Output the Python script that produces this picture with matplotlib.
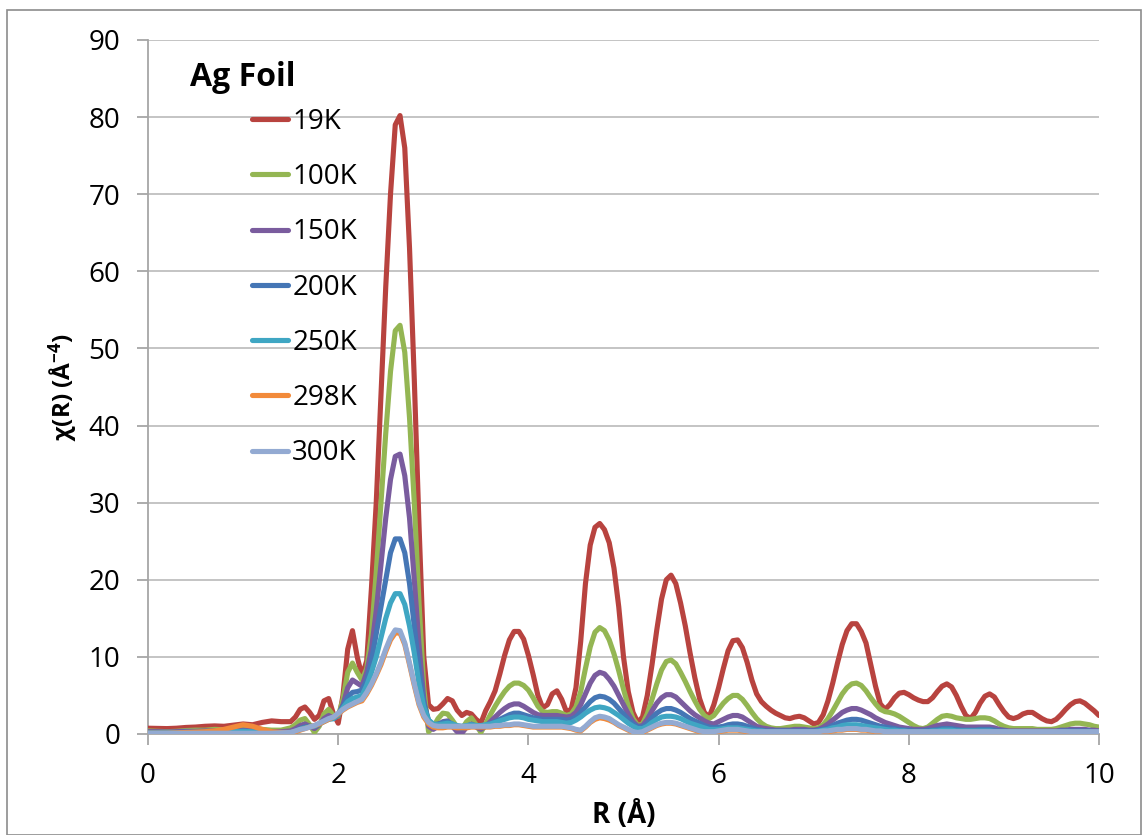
import numpy as np
import matplotlib
matplotlib.use("Agg")
import matplotlib.pyplot as plt
from matplotlib.patches import Rectangle

# ========================
# Data
# ========================
# R grid: 0.0-1.4 every 0.1 A, then 1.50-10.00 every 0.05 A
R = np.concatenate([np.round(np.arange(0.0, 1.45, 0.1), 2),
                    np.round(np.arange(1.50, 10.001, 0.05), 2)])

LABELS = ["19K", "100K", "150K", "200K", "250K", "298K", "300K"]
COLORS = ["#B8433F", "#94B653", "#7A5C9E", "#4576B5", "#3FA6C3", "#F28A3A", "#93AAD2"]

chi_19K = [
    0.75, 0.72, 0.70, 0.75, 0.85, 0.90, 1.00, 1.05, 1.00, 1.15, 1.30, 1.20, 1.50, 1.70, 1.60,
    1.6, 2.2, 3.2, 3.5, 2.8, 1.9, 2.4, 4.3, 4.6, 2.6,
    1.4, 5.0, 11.0, 13.4, 10.0, 7.5, 9.5, 19.0, 30.0, 44.0,
    58.0, 70.0, 79.0, 80.2, 76.0, 63.0, 46.0, 27.0, 10.0, 3.8,
    3.2, 3.3, 3.9, 4.6, 4.3, 3.1, 2.4, 2.8, 2.6, 1.9,
    1.4, 3.0, 4.2, 5.6, 7.8, 10.2, 12.2, 13.3, 13.3, 12.3,
    10.2, 7.7, 5.0, 3.4, 3.8, 5.2, 5.6, 4.5, 2.9, 3.2,
    6.0, 12.0, 19.5, 24.5, 26.8, 27.3, 26.5, 24.8, 21.5, 16.5,
    10.0, 5.5, 2.8, 1.5, 2.2, 5.0, 9.0, 13.5, 17.5, 20.0,
    20.6, 19.5, 17.0, 14.0, 10.5, 7.3, 4.6, 2.8, 2.2, 3.8,
    6.0, 8.5, 10.8, 12.1, 12.2, 11.2, 9.3, 7.0, 5.2, 4.2,
    3.6, 3.1, 2.7, 2.4, 2.1, 2.0, 2.2, 2.3, 2.1, 1.7,
    1.3, 1.5, 2.5, 4.3, 6.6, 9.2, 11.6, 13.4, 14.3, 14.3,
    13.3, 11.8, 9.0, 6.2, 3.9, 3.2, 3.8, 4.7, 5.3, 5.4,
    5.1, 4.7, 4.4, 4.2, 4.2, 4.7, 5.5, 6.2, 6.5, 6.1,
    5.0, 3.6, 2.4, 2.0, 2.8, 4.0, 4.9, 5.2, 4.8, 3.8,
    2.9, 2.2, 2.0, 2.2, 2.6, 2.8, 2.8, 2.4, 2.0, 1.7,
    1.6, 1.9, 2.5, 3.2, 3.8, 4.2, 4.3, 4.0, 3.5, 3.0,
    2.4,
]

chi_100K = [
    0.40, 0.35, 0.30, 0.35, 0.45, 0.50, 0.50, 0.60, 0.55, 0.70, 0.80, 0.70, 0.60, 0.50, 0.50,
    0.8, 1.2, 1.8, 2.0, 1.2, 0.2, 1.0, 2.6, 3.2, 2.4,
    2.3, 4.5, 8.0, 9.2, 8.0, 7.0, 8.5, 13.0, 21.0, 30.0,
    39.0, 47.0, 52.3, 53.0, 49.5, 41.0, 30.0, 17.0, 6.0, 0.3,
    0.9, 2.0, 2.7, 2.6, 1.8, 0.9, 0.6, 1.6, 2.1, 1.2,
    0.2, 1.3, 2.5, 3.6, 4.6, 5.5, 6.2, 6.6, 6.6, 6.3,
    5.7, 4.7, 3.6, 2.9, 2.8, 2.9, 2.9, 2.7, 2.4, 2.6,
    3.5, 5.5, 8.5, 11.3, 13.2, 13.8, 13.4, 12.2, 10.4, 8.2,
    5.8, 3.6, 2.0, 1.1, 1.3, 2.6, 4.5, 6.5, 8.3, 9.4,
    9.6, 9.1, 8.0, 6.8, 5.5, 4.3, 3.2, 2.4, 2.0, 2.4,
    3.2, 4.0, 4.6, 5.0, 5.0, 4.5, 3.7, 2.8, 2.0, 1.4,
    1.0, 0.8, 0.7, 0.7, 0.8, 0.9, 1.0, 1.0, 0.9, 0.8,
    0.7, 0.8, 1.2, 2.0, 3.0, 4.1, 5.2, 6.0, 6.5, 6.6,
    6.3, 5.6, 4.7, 3.9, 3.2, 2.9, 2.8, 2.6, 2.3, 1.9,
    1.5, 1.1, 0.8, 0.7, 0.9, 1.4, 1.9, 2.3, 2.4, 2.3,
    2.1, 2.0, 1.9, 1.9, 2.0, 2.1, 2.1, 2.0, 1.7, 1.3,
    1.0, 0.8, 0.7, 0.7, 0.7, 0.7, 0.7, 0.6, 0.6, 0.6,
    0.6, 0.7, 0.9, 1.1, 1.3, 1.4, 1.4, 1.3, 1.2, 1.0,
    0.9,
]

chi_150K = [
    0.30, 0.30, 0.25, 0.30, 0.35, 0.35, 0.40, 0.40, 0.35, 0.45, 0.50, 0.45, 0.35, 0.30, 0.30,
    0.4, 0.7, 1.1, 1.3, 1.0, 0.7, 1.2, 2.0, 2.4, 2.0,
    2.4, 3.8, 6.0, 7.0, 6.6, 6.2, 8.0, 11.0, 16.0, 22.0,
    28.0, 33.0, 36.0, 36.3, 33.5, 28.0, 20.0, 11.5, 4.5, 1.0,
    0.6, 1.0, 1.6, 1.7, 1.0, 0.3, 0.1, 0.9, 1.3, 0.9,
    0.6, 1.0, 1.6, 2.2, 2.8, 3.3, 3.7, 3.9, 3.9, 3.6,
    3.2, 2.8, 2.5, 2.4, 2.4, 2.4, 2.4, 2.3, 2.2, 2.3,
    2.8, 3.8, 5.2, 6.6, 7.6, 8.0, 7.8, 7.1, 6.2, 5.0,
    3.8, 2.6, 1.6, 1.0, 1.1, 1.9, 3.0, 4.0, 4.7, 5.1,
    5.1, 4.8, 4.2, 3.6, 3.0, 2.5, 2.1, 1.7, 1.4, 1.3,
    1.6, 1.9, 2.2, 2.4, 2.4, 2.2, 1.8, 1.4, 1.0, 0.8,
    0.7, 0.6, 0.5, 0.5, 0.5, 0.5, 0.6, 0.6, 0.6, 0.5,
    0.5, 0.6, 0.9, 1.3, 1.8, 2.3, 2.8, 3.1, 3.3, 3.3,
    3.1, 2.8, 2.5, 2.1, 1.8, 1.5, 1.3, 1.1, 0.9, 0.8,
    0.7, 0.6, 0.6, 0.6, 0.7, 0.9, 1.1, 1.2, 1.3, 1.2,
    1.1, 1.0, 0.9, 0.9, 0.9, 0.9, 0.9, 0.9, 0.8, 0.6,
    0.5, 0.4, 0.4, 0.4, 0.4, 0.4, 0.4, 0.4, 0.4, 0.4,
    0.4, 0.4, 0.5, 0.5, 0.6, 0.6, 0.6, 0.6, 0.5, 0.5,
    0.4,
]

chi_200K = [
    0.20, 0.20, 0.20, 0.20, 0.25, 0.25, 0.30, 0.30, 0.25, 0.30, 0.35, 0.30, 0.25, 0.20, 0.15,
    0.2, 0.4, 0.7, 0.9, 1.0, 1.0, 1.3, 1.7, 2.0, 2.0,
    2.5, 3.6, 4.8, 5.4, 5.5, 5.7, 7.0, 9.5, 13.0, 16.5,
    20.0, 23.5, 25.3, 25.3, 23.5, 19.5, 14.0, 8.5, 4.0, 1.8,
    1.2, 1.3, 1.5, 1.6, 1.3, 0.9, 0.7, 1.0, 1.2, 1.1,
    1.0, 1.1, 1.3, 1.6, 1.9, 2.2, 2.5, 2.7, 2.7, 2.5,
    2.3, 2.1, 2.0, 1.9, 1.9, 1.9, 1.9, 1.9, 1.8, 1.9,
    2.2, 2.8, 3.5, 4.2, 4.7, 4.9, 4.8, 4.5, 4.0, 3.3,
    2.6, 1.9, 1.3, 0.9, 0.9, 1.4, 2.1, 2.7, 3.1, 3.3,
    3.3, 3.1, 2.8, 2.4, 2.0, 1.7, 1.4, 1.1, 0.9, 0.8,
    0.9, 1.0, 1.2, 1.3, 1.3, 1.2, 1.0, 0.8, 0.6, 0.5,
    0.4, 0.4, 0.4, 0.4, 0.4, 0.4, 0.4, 0.4, 0.4, 0.4,
    0.4, 0.5, 0.6, 0.8, 1.1, 1.4, 1.6, 1.8, 1.9, 1.9,
    1.8, 1.6, 1.4, 1.2, 1.0, 0.9, 0.8, 0.7, 0.6, 0.5,
    0.5, 0.4, 0.4, 0.4, 0.5, 0.5, 0.6, 0.7, 0.7, 0.7,
    0.6, 0.5, 0.5, 0.5, 0.5, 0.6, 0.6, 0.6, 0.5, 0.4,
    0.4, 0.3, 0.3, 0.3, 0.3, 0.3, 0.3, 0.3, 0.3, 0.3,
    0.3, 0.3, 0.4, 0.4, 0.4, 0.4, 0.4, 0.4, 0.4, 0.3,
    0.3,
]

chi_250K = [
    0.15, 0.15, 0.15, 0.15, 0.20, 0.20, 0.20, 0.25, 0.25, 0.30, 0.35, 0.30, 0.20, 0.15, 0.15,
    0.2, 0.3, 0.6, 0.8, 0.9, 1.0, 1.3, 1.6, 1.9, 2.0,
    2.5, 3.4, 4.2, 4.6, 4.8, 5.0, 6.3, 8.0, 10.0, 12.5,
    15.0, 17.0, 18.2, 18.2, 16.8, 14.0, 10.5, 6.5, 3.5, 1.8,
    1.3, 1.2, 1.3, 1.4, 1.3, 1.1, 1.0, 1.1, 1.2, 1.1,
    1.1, 1.2, 1.3, 1.5, 1.7, 1.9, 2.1, 2.2, 2.2, 2.1,
    1.9, 1.8, 1.7, 1.6, 1.6, 1.6, 1.6, 1.5, 1.4, 1.5,
    1.8, 2.2, 2.7, 3.1, 3.4, 3.5, 3.4, 3.2, 2.8, 2.4,
    1.9, 1.4, 1.0, 0.7, 0.7, 1.0, 1.5, 1.9, 2.2, 2.3,
    2.3, 2.2, 2.0, 1.7, 1.4, 1.2, 1.0, 0.8, 0.6, 0.6,
    0.6, 0.7, 0.8, 0.8, 0.8, 0.7, 0.6, 0.5, 0.4, 0.4,
    0.3, 0.3, 0.3, 0.3, 0.3, 0.3, 0.3, 0.3, 0.3, 0.3,
    0.3, 0.4, 0.5, 0.6, 0.8, 0.9, 1.1, 1.2, 1.2, 1.2,
    1.1, 1.0, 0.9, 0.8, 0.7, 0.6, 0.5, 0.5, 0.4, 0.4,
    0.3, 0.3, 0.3, 0.3, 0.3, 0.4, 0.4, 0.5, 0.5, 0.5,
    0.4, 0.4, 0.4, 0.4, 0.4, 0.4, 0.4, 0.4, 0.3, 0.3,
    0.3, 0.3, 0.3, 0.3, 0.3, 0.3, 0.3, 0.3, 0.3, 0.3,
    0.3, 0.3, 0.3, 0.3, 0.3, 0.3, 0.3, 0.3, 0.3, 0.3,
    0.3,
]

chi_298K = [
    0.10, 0.10, 0.10, 0.15, 0.20, 0.25, 0.30, 0.40, 0.60, 0.90, 1.20, 1.00, 0.60, 0.30, 0.20,
    0.2, 0.3, 0.5, 0.7, 0.9, 1.1, 1.3, 1.6, 1.9, 2.2,
    2.6, 3.1, 3.5, 3.8, 4.1, 4.3, 5.2, 6.3, 7.6, 9.0,
    10.7, 12.2, 13.1, 13.1, 11.6, 9.0, 6.3, 3.8, 2.2, 1.3,
    0.9, 0.8, 0.8, 0.9, 0.9, 0.8, 0.8, 0.8, 0.9, 0.9,
    0.9, 0.9, 0.9, 1.0, 1.0, 1.1, 1.1, 1.2, 1.2, 1.1,
    1.0, 0.9, 0.9, 0.9, 0.9, 0.9, 0.9, 0.9, 0.8, 0.7,
    0.5, 0.4, 0.9, 1.5, 1.9, 2.1, 2.0, 1.8, 1.5, 1.1,
    0.8, 0.5, 0.2, 0.1, 0.2, 0.5, 0.8, 1.1, 1.3, 1.4,
    1.4, 1.3, 1.1, 0.9, 0.7, 0.5, 0.3, 0.2, 0.2, 0.2,
    0.3, 0.4, 0.5, 0.5, 0.5, 0.4, 0.3, 0.3, 0.2, 0.2,
    0.2, 0.2, 0.2, 0.2, 0.2, 0.2, 0.2, 0.2, 0.2, 0.2,
    0.2, 0.2, 0.3, 0.3, 0.4, 0.5, 0.5, 0.6, 0.6, 0.6,
    0.5, 0.5, 0.4, 0.3, 0.3, 0.2, 0.2, 0.2, 0.2, 0.2,
    0.2, 0.2, 0.2, 0.2, 0.2, 0.2, 0.2, 0.2, 0.2, 0.2,
    0.2, 0.2, 0.2, 0.2, 0.2, 0.2, 0.2, 0.2, 0.2, 0.2,
    0.2, 0.2, 0.2, 0.2, 0.2, 0.2, 0.2, 0.2, 0.2, 0.2,
    0.2, 0.2, 0.2, 0.2, 0.2, 0.2, 0.2, 0.2, 0.2, 0.2,
    0.2,
]

chi_300K = [
    0.10, 0.10, 0.10, 0.10, 0.10, 0.10, 0.10, 0.10, 0.10, 0.10, 0.10, 0.10, 0.10, 0.10, 0.15,
    0.2, 0.4, 0.6, 0.7, 0.9, 1.1, 1.4, 1.7, 2.0, 2.2,
    2.7, 3.2, 3.6, 3.9, 4.2, 4.5, 5.4, 6.5, 7.8, 9.3,
    11.0, 12.5, 13.5, 13.4, 11.8, 9.2, 6.5, 4.0, 2.4, 1.5,
    1.1, 1.0, 1.0, 1.0, 1.0, 1.0, 1.0, 1.0, 1.0, 1.0,
    1.0, 1.0, 1.0, 1.1, 1.1, 1.2, 1.2, 1.3, 1.3, 1.2,
    1.1, 1.0, 1.0, 1.0, 1.0, 1.0, 1.0, 1.0, 0.9, 0.8,
    0.6, 0.5, 1.0, 1.6, 2.1, 2.3, 2.2, 2.0, 1.6, 1.2,
    0.9, 0.6, 0.3, 0.2, 0.3, 0.6, 0.9, 1.2, 1.4, 1.5,
    1.5, 1.4, 1.2, 1.0, 0.8, 0.6, 0.4, 0.3, 0.3, 0.3,
    0.4, 0.5, 0.6, 0.6, 0.6, 0.5, 0.4, 0.3, 0.3, 0.3,
    0.3, 0.3, 0.3, 0.3, 0.3, 0.3, 0.3, 0.3, 0.3, 0.3,
    0.3, 0.3, 0.4, 0.4, 0.5, 0.6, 0.6, 0.7, 0.7, 0.7,
    0.6, 0.6, 0.5, 0.4, 0.4, 0.3, 0.3, 0.3, 0.3, 0.3,
    0.3, 0.3, 0.3, 0.3, 0.3, 0.3, 0.3, 0.3, 0.3, 0.3,
    0.3, 0.3, 0.3, 0.3, 0.3, 0.3, 0.3, 0.3, 0.3, 0.3,
    0.3, 0.3, 0.3, 0.3, 0.3, 0.3, 0.3, 0.3, 0.3, 0.3,
    0.3, 0.3, 0.3, 0.3, 0.3, 0.3, 0.3, 0.3, 0.3, 0.3,
    0.3,
]

SERIES = [chi_19K, chi_100K, chi_150K, chi_200K, chi_250K, chi_298K, chi_300K]

# ========================
# Plot
# ========================
plt.rcParams['font.family'] = ['Open Sans', 'DejaVu Sans']
plt.rcParams['mathtext.fontset'] = 'custom'
plt.rcParams['mathtext.rm'] = 'Open Sans'
plt.rcParams['mathtext.bf'] = 'Open Sans:bold'

W, H = 1144, 835
fig = plt.figure(figsize=(W / 100, H / 100), dpi=100)
ax = fig.add_axes([148 / W, (H - 734) / H, (1099 - 148) / W, (734 - 40) / H])

GRID = "#BFBFBF"
for lab, col, vals in zip(LABELS, COLORS, SERIES):
    ax.plot(R, vals, color=col, lw=3.7, label=lab, solid_joinstyle='round',
            solid_capstyle='round', zorder=3)

ax.set_xlim(0, 10)
ax.set_ylim(0, 90)
ax.set_xticks(np.arange(0, 11, 2))
ax.set_yticks(np.arange(0, 91, 10))
ax.yaxis.grid(True, color=GRID, lw=1.3)
ax.set_axisbelow(True)
for s in ["top", "right"]:
    ax.spines[s].set_visible(False)
for s in ["left", "bottom"]:
    ax.spines[s].set_color("#A6A6A6")
    ax.spines[s].set_linewidth(1.3)
ax.tick_params(axis='both', length=8, width=1.3, color="#A6A6A6",
               labelsize=20, pad=12)

ax.set_xlabel("R (Å)", fontsize=20, fontweight='bold', labelpad=8)
ax.set_ylabel(r"χ(R) (Å$\mathbf{^{-4}}$)", fontsize=17.5, fontweight='bold', labelpad=6)

ax.legend(loc='upper left', bbox_to_anchor=(252 / W, (H - 108) / H),
          bbox_transform=fig.transFigure, frameon=False, fontsize=20,
          borderpad=0, borderaxespad=0, handlelength=1.3, handletextpad=0.15,
          labelspacing=0.98)
fig.text(190 / W, (H - 77) / H, "Ag Foil", fontsize=23, fontweight='bold',
         ha='left', va='center')

# outer chart frame
fig.patches.append(Rectangle((7 / W, 0.5 / H), (1141 - 7) / W, (H - 10.5) / H,
                             transform=fig.transFigure, fill=False,
                             edgecolor="#8C8C8C", lw=1.2))

fig.savefig("out.png", dpi=100)
